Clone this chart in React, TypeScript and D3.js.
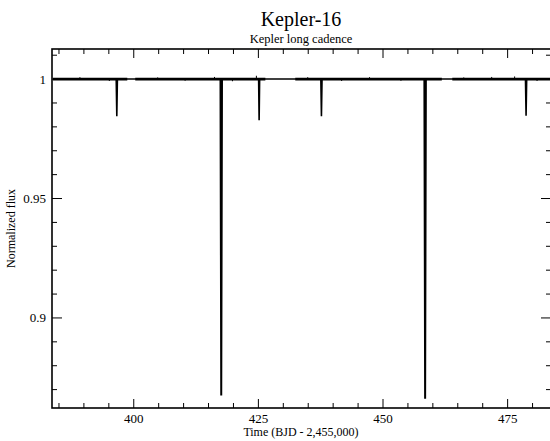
import React from "react";
import * as d3 from "d3";

const W = 550;
const H = 441;
const M = { left: 52, right: 551, top: 49, bottom: 408 };

const xDomain = [383.6, 483.7];
const yDomain = [0.8623, 1.0126];
const xMajorTicks = [400, 425, 450, 475];
const xMinorStep = 5;
const yMajorTicks = [0.9, 0.95, 1];
const yMinorStep = 0.01;
const yTickLabels = ["0.9", "0.95", "1"];

// observed data stretches (start, end) in days, with gaps between them
const dataSegments: [number, number][] = [
  [383.8, 398.7],
  [400.3, 426.4],
  [432.4, 461.8],
  [463.9, 483.7],
];
// eclipse / transit events: mid-time, minimum flux, half-width (days)
const eclipseTimes = [396.6, 417.55, 425.15, 437.65, 458.45, 478.7];
const eclipseMinima = [0.9845, 0.8675, 0.9828, 0.9845, 0.8662, 0.9847];
const eclipseHalfWidth = [0.12, 0.15, 0.1, 0.12, 0.15, 0.12];
// hand-placed small noise spikes above/below the baseline
const spikeTimes = [389.2, 395.1, 404.8, 410.3, 416.2, 419.8, 424.6, 434.9, 441.7, 447.3, 453.6, 466.2, 471.8, 476.4, 480.9];
const spikeFlux = [1.0008, 0.9992, 1.0007, 0.9993, 1.0009, 0.9991, 1.0014, 1.0008, 0.9992, 1.0008, 0.9993, 1.0007, 1.0009, 1.0011, 0.9992];

export default function App() {
  const x = d3.scaleLinear().domain(xDomain).range([M.left, M.right]);
  const y = d3.scaleLinear().domain(yDomain).range([M.bottom, M.top]);

  const xMinor = d3.range(385, 484, xMinorStep).filter((v) => !xMajorTicks.includes(v));
  const yMinor = d3
    .range(0.87, 1.011, yMinorStep)
    .map((v) => +v.toFixed(2))
    .filter((v) => !yMajorTicks.some((m) => Math.abs(m - v) < 1e-6));

  const line = d3
    .line<[number, number]>()
    .x((d) => x(d[0]))
    .y((d) => y(d[1]));

  const baseline: [number, number][] = [
    [dataSegments[0][0], 1],
    [dataSegments[dataSegments.length - 1][1], 1],
  ];

  const font = "'Liberation Serif'";

  return (
    <svg
      width={W}
      height={H}
      style={{ position: "absolute", left: 0, top: 0, background: "#fff" }}
    >
      <rect x={0} y={0} width={W} height={H} fill="#fff" />
      <text x={301} y={26} textAnchor="middle" fontSize={20} fontFamily={font}>
        Kepler-16
      </text>
      <text x={301} y={43} textAnchor="middle" fontSize={12.5} fontFamily={font}>
        Kepler long cadence
      </text>

      <defs>
        <clipPath id="plotclip">
          <rect x={M.left} y={M.top} width={M.right - M.left} height={M.bottom - M.top} />
        </clipPath>
      </defs>

      <g clipPath="url(#plotclip)">
        <path d={line(baseline) || ""} stroke="#000" strokeWidth={1.5} fill="none" />
        {dataSegments.map((s, i) => (
          <path
            key={"seg" + i}
            d={line([[s[0], 1], [s[1], 1]]) || ""}
            stroke="#000"
            strokeWidth={2.6}
            fill="none"
          />
        ))}
        {spikeTimes.map((t, i) => (
          <line
            key={"sp" + i}
            x1={x(t)}
            x2={x(t)}
            y1={y(1)}
            y2={y(spikeFlux[i])}
            stroke="#000"
            strokeWidth={1}
          />
        ))}
        {eclipseTimes.map((t, i) => (
          <path
            key={"ec" + i}
            d={
              line([
                [t - eclipseHalfWidth[i], 1],
                [t, eclipseMinima[i]],
                [t + eclipseHalfWidth[i], 1],
              ]) || ""
            }
            stroke="#000"
            strokeWidth={eclipseMinima[i] < 0.9 ? 2 : 1.6}
            fill="none"
          />
        ))}
      </g>

      <rect
        x={M.left}
        y={M.top}
        width={M.right - M.left}
        height={M.bottom - M.top}
        fill="none"
        stroke="#000"
        strokeWidth={1.6}
      />

      {xMajorTicks.map((v) => (
        <g key={"xM" + v}>
          <line x1={x(v)} x2={x(v)} y1={M.bottom} y2={M.bottom - 9} stroke="#000" strokeWidth={1} />
          <line x1={x(v)} x2={x(v)} y1={M.top} y2={M.top + 9} stroke="#000" strokeWidth={1} />
          <text x={x(v)} y={M.bottom + 15} textAnchor="middle" fontSize={13} fontFamily={font}>
            {v}
          </text>
        </g>
      ))}
      {xMinor.map((v) => (
        <g key={"xm" + v}>
          <line x1={x(v)} x2={x(v)} y1={M.bottom} y2={M.bottom - 5} stroke="#000" strokeWidth={1} />
          <line x1={x(v)} x2={x(v)} y1={M.top} y2={M.top + 5} stroke="#000" strokeWidth={1} />
        </g>
      ))}

      {yMajorTicks.map((v, i) => (
        <g key={"yM" + v}>
          <line x1={M.left} x2={M.left + 10} y1={y(v)} y2={y(v)} stroke="#000" strokeWidth={1} />
          <line x1={M.right} x2={M.right - 10} y1={y(v)} y2={y(v)} stroke="#000" strokeWidth={1} />
          <text x={M.left - 6} y={y(v) + 4.5} textAnchor="end" fontSize={13} fontFamily={font}>
            {yTickLabels[i]}
          </text>
        </g>
      ))}
      {yMinor.map((v) => (
        <g key={"ym" + v}>
          <line x1={M.left} x2={M.left + 5} y1={y(v)} y2={y(v)} stroke="#000" strokeWidth={1} />
          <line x1={M.right} x2={M.right - 5} y1={y(v)} y2={y(v)} stroke="#000" strokeWidth={1} />
        </g>
      ))}

      <text x={301} y={436} textAnchor="middle" fontSize={12} fontFamily={font}>
        Time (BJD - 2,455,000)
      </text>
      <text
        transform={`translate(15, ${(M.top + M.bottom) / 2}) rotate(-90)`}
        textAnchor="middle"
        fontSize={12}
        fontFamily={font}
      >
        Normalized flux
      </text>
    </svg>
  );
}
